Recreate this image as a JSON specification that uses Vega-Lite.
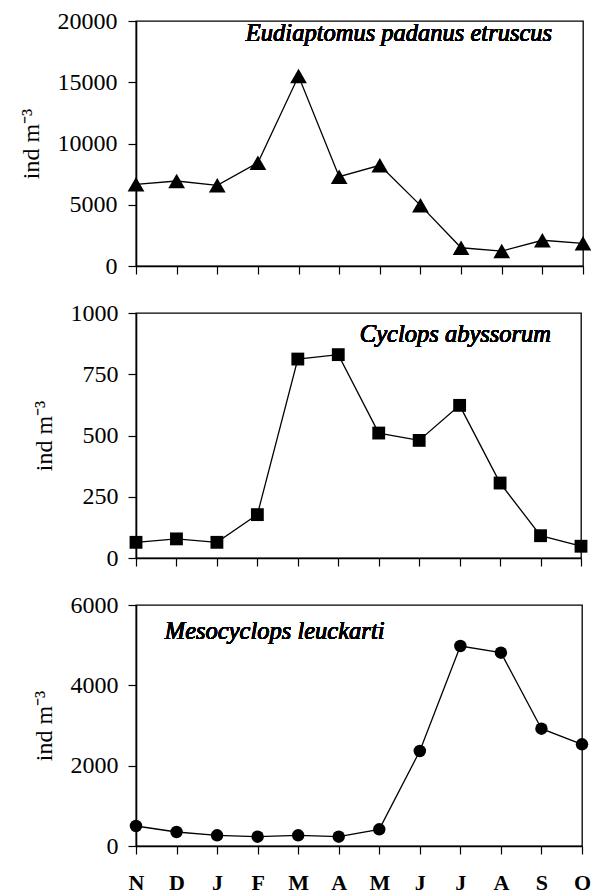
{
  "$schema": "https://vega.github.io/schema/vega-lite/v6.json",
  "background": "white",
  "padding": {"left": 18, "top": 8, "right": 0, "bottom": 0},
  "config": {
    "view": {"stroke": "black", "strokeWidth": 1.3},
    "axis": {
      "domainColor": "black", "domainWidth": 1.6,
      "tickColor": "black", "tickSize": 8, "tickWidth": 1.2,
      "labelColor": "black", "labelFont": "Liberation Serif", "labelFontSize": 24,
      "titleFont": "Liberation Serif", "titleFontSize": 24, "titleFontWeight": "normal", "titleColor": "black",
      "grid": false, "labelFlush": false, "labelOverlap": false
    }
  },
  "bounds": "flush",
  "spacing": 47,
  "vconcat": [
    {
      "width": 447, "height": 245,
      "data": {"values": [
        {"m": 0, "n": 6670}, {"m": 1, "n": 6940}, {"m": 2, "n": 6590},
        {"m": 3, "n": 8430}, {"m": 4, "n": 15510}, {"m": 5, "n": 7290},
        {"m": 6, "n": 8220}, {"m": 7, "n": 4950}, {"m": 8, "n": 1490},
        {"m": 9, "n": 1220}, {"m": 10, "n": 2100}, {"m": 11, "n": 1850}
      ]},
      "encoding": {
        "x": {"field": "m", "type": "quantitative", "scale": {"domain": [0, 11], "nice": false, "zero": false},
              "axis": {"values": [0,1,2,3,4,5,6,7,8,9,10,11], "labels": false, "title": null}},
        "y": {"field": "n", "type": "quantitative", "scale": {"domain": [0, 20000], "nice": false},
              "axis": {"values": [0, 5000, 10000, 15000, 20000], "format": "d", "title": "ind m⁻³", "labelFont": "Liberation Serif", "titleFont": "Liberation Serif", "labelFontSize": 24, "labelPadding": 11, "titlePadding": 14}}
      },
      "layer": [
        {"mark": {"type": "line", "color": "black", "strokeWidth": 1.3}},
        {"mark": {"type": "point", "shape": "triangle-up", "filled": true, "color": "black", "opacity": 1, "size": 280}},
        {"mark": {"type": "text", "text": "Eudiaptomus padanus etruscus", "font": "Liberation Serif", "fontStyle": "italic", "fontWeight": "normal", "fontSize": 24.5, "align": "right", "baseline": "middle", "color": "black"},
         "encoding": {"x": {"datum": 10.24}, "y": {"datum": 18950}}}
      ]
    },
    {
      "width": 445, "height": 245,
      "data": {"values": [
        {"m": 0, "n": 64}, {"m": 1, "n": 78}, {"m": 2, "n": 64},
        {"m": 3, "n": 177}, {"m": 4, "n": 812}, {"m": 5, "n": 830},
        {"m": 6, "n": 510}, {"m": 7, "n": 480}, {"m": 8, "n": 623},
        {"m": 9, "n": 306}, {"m": 10, "n": 91}, {"m": 11, "n": 48}
      ]},
      "encoding": {
        "x": {"field": "m", "type": "quantitative", "scale": {"domain": [0, 11], "nice": false, "zero": false},
              "axis": {"values": [0,1,2,3,4,5,6,7,8,9,10,11], "labels": false, "title": null}},
        "y": {"field": "n", "type": "quantitative", "scale": {"domain": [0, 1000], "nice": false},
              "axis": {"values": [0, 250, 500, 750, 1000], "format": "d", "title": "ind m⁻³", "labelFont": "Liberation Serif", "titleFont": "Liberation Serif", "labelFontSize": 24, "labelPadding": 10, "titlePadding": 14}}
      },
      "layer": [
        {"mark": {"type": "line", "color": "black", "strokeWidth": 1.3}},
        {"mark": {"type": "point", "shape": "square", "filled": true, "color": "black", "opacity": 1, "size": 165}},
        {"mark": {"type": "text", "text": "Cyclops abyssorum", "font": "Liberation Serif", "fontStyle": "italic", "fontWeight": "normal", "fontSize": 24.5, "align": "right", "baseline": "middle", "color": "black"},
         "encoding": {"x": {"datum": 10.26}, "y": {"datum": 910}}}
      ]
    },
    {
      "width": 446, "height": 241,
      "data": {"values": [
        {"m": 0, "n": 498}, {"m": 1, "n": 349}, {"m": 2, "n": 266},
        {"m": 3, "n": 232}, {"m": 4, "n": 266}, {"m": 5, "n": 232},
        {"m": 6, "n": 415}, {"m": 7, "n": 2365}, {"m": 8, "n": 4979},
        {"m": 9, "n": 4813}, {"m": 10, "n": 2920}, {"m": 11, "n": 2531}
      ]},
      "encoding": {
        "x": {"field": "m", "type": "quantitative", "scale": {"domain": [0, 11], "nice": false, "zero": false},
              "axis": {"values": [0,1,2,3,4,5,6,7,8,9,10,11], "title": null,
                       "labelExpr": "['N','D','J','F','M','A','M','J','J','A','S','O'][datum.value]",
                       "labelFont": "Liberation Serif", "labelFontWeight": "bold", "labelFontSize": 22, "labelPadding": 18}},
        "y": {"field": "n", "type": "quantitative", "scale": {"domain": [0, 6000], "nice": false},
              "axis": {"values": [0, 2000, 4000, 6000], "format": "d", "title": "ind m⁻³", "labelFont": "Liberation Serif", "titleFont": "Liberation Serif", "labelFontSize": 24, "labelPadding": 10, "titlePadding": 14}}
      },
      "layer": [
        {"mark": {"type": "line", "color": "black", "strokeWidth": 1.3}},
        {"mark": {"type": "point", "shape": "circle", "filled": true, "color": "black", "opacity": 1, "size": 155}},
        {"mark": {"type": "text", "text": "Mesocyclops leuckarti", "font": "Liberation Serif", "fontStyle": "italic", "fontWeight": "normal", "fontSize": 24.5, "align": "left", "baseline": "middle", "color": "black"},
         "encoding": {"x": {"datum": 0.71}, "y": {"datum": 5330}}}
      ]
    }
  ]
}
